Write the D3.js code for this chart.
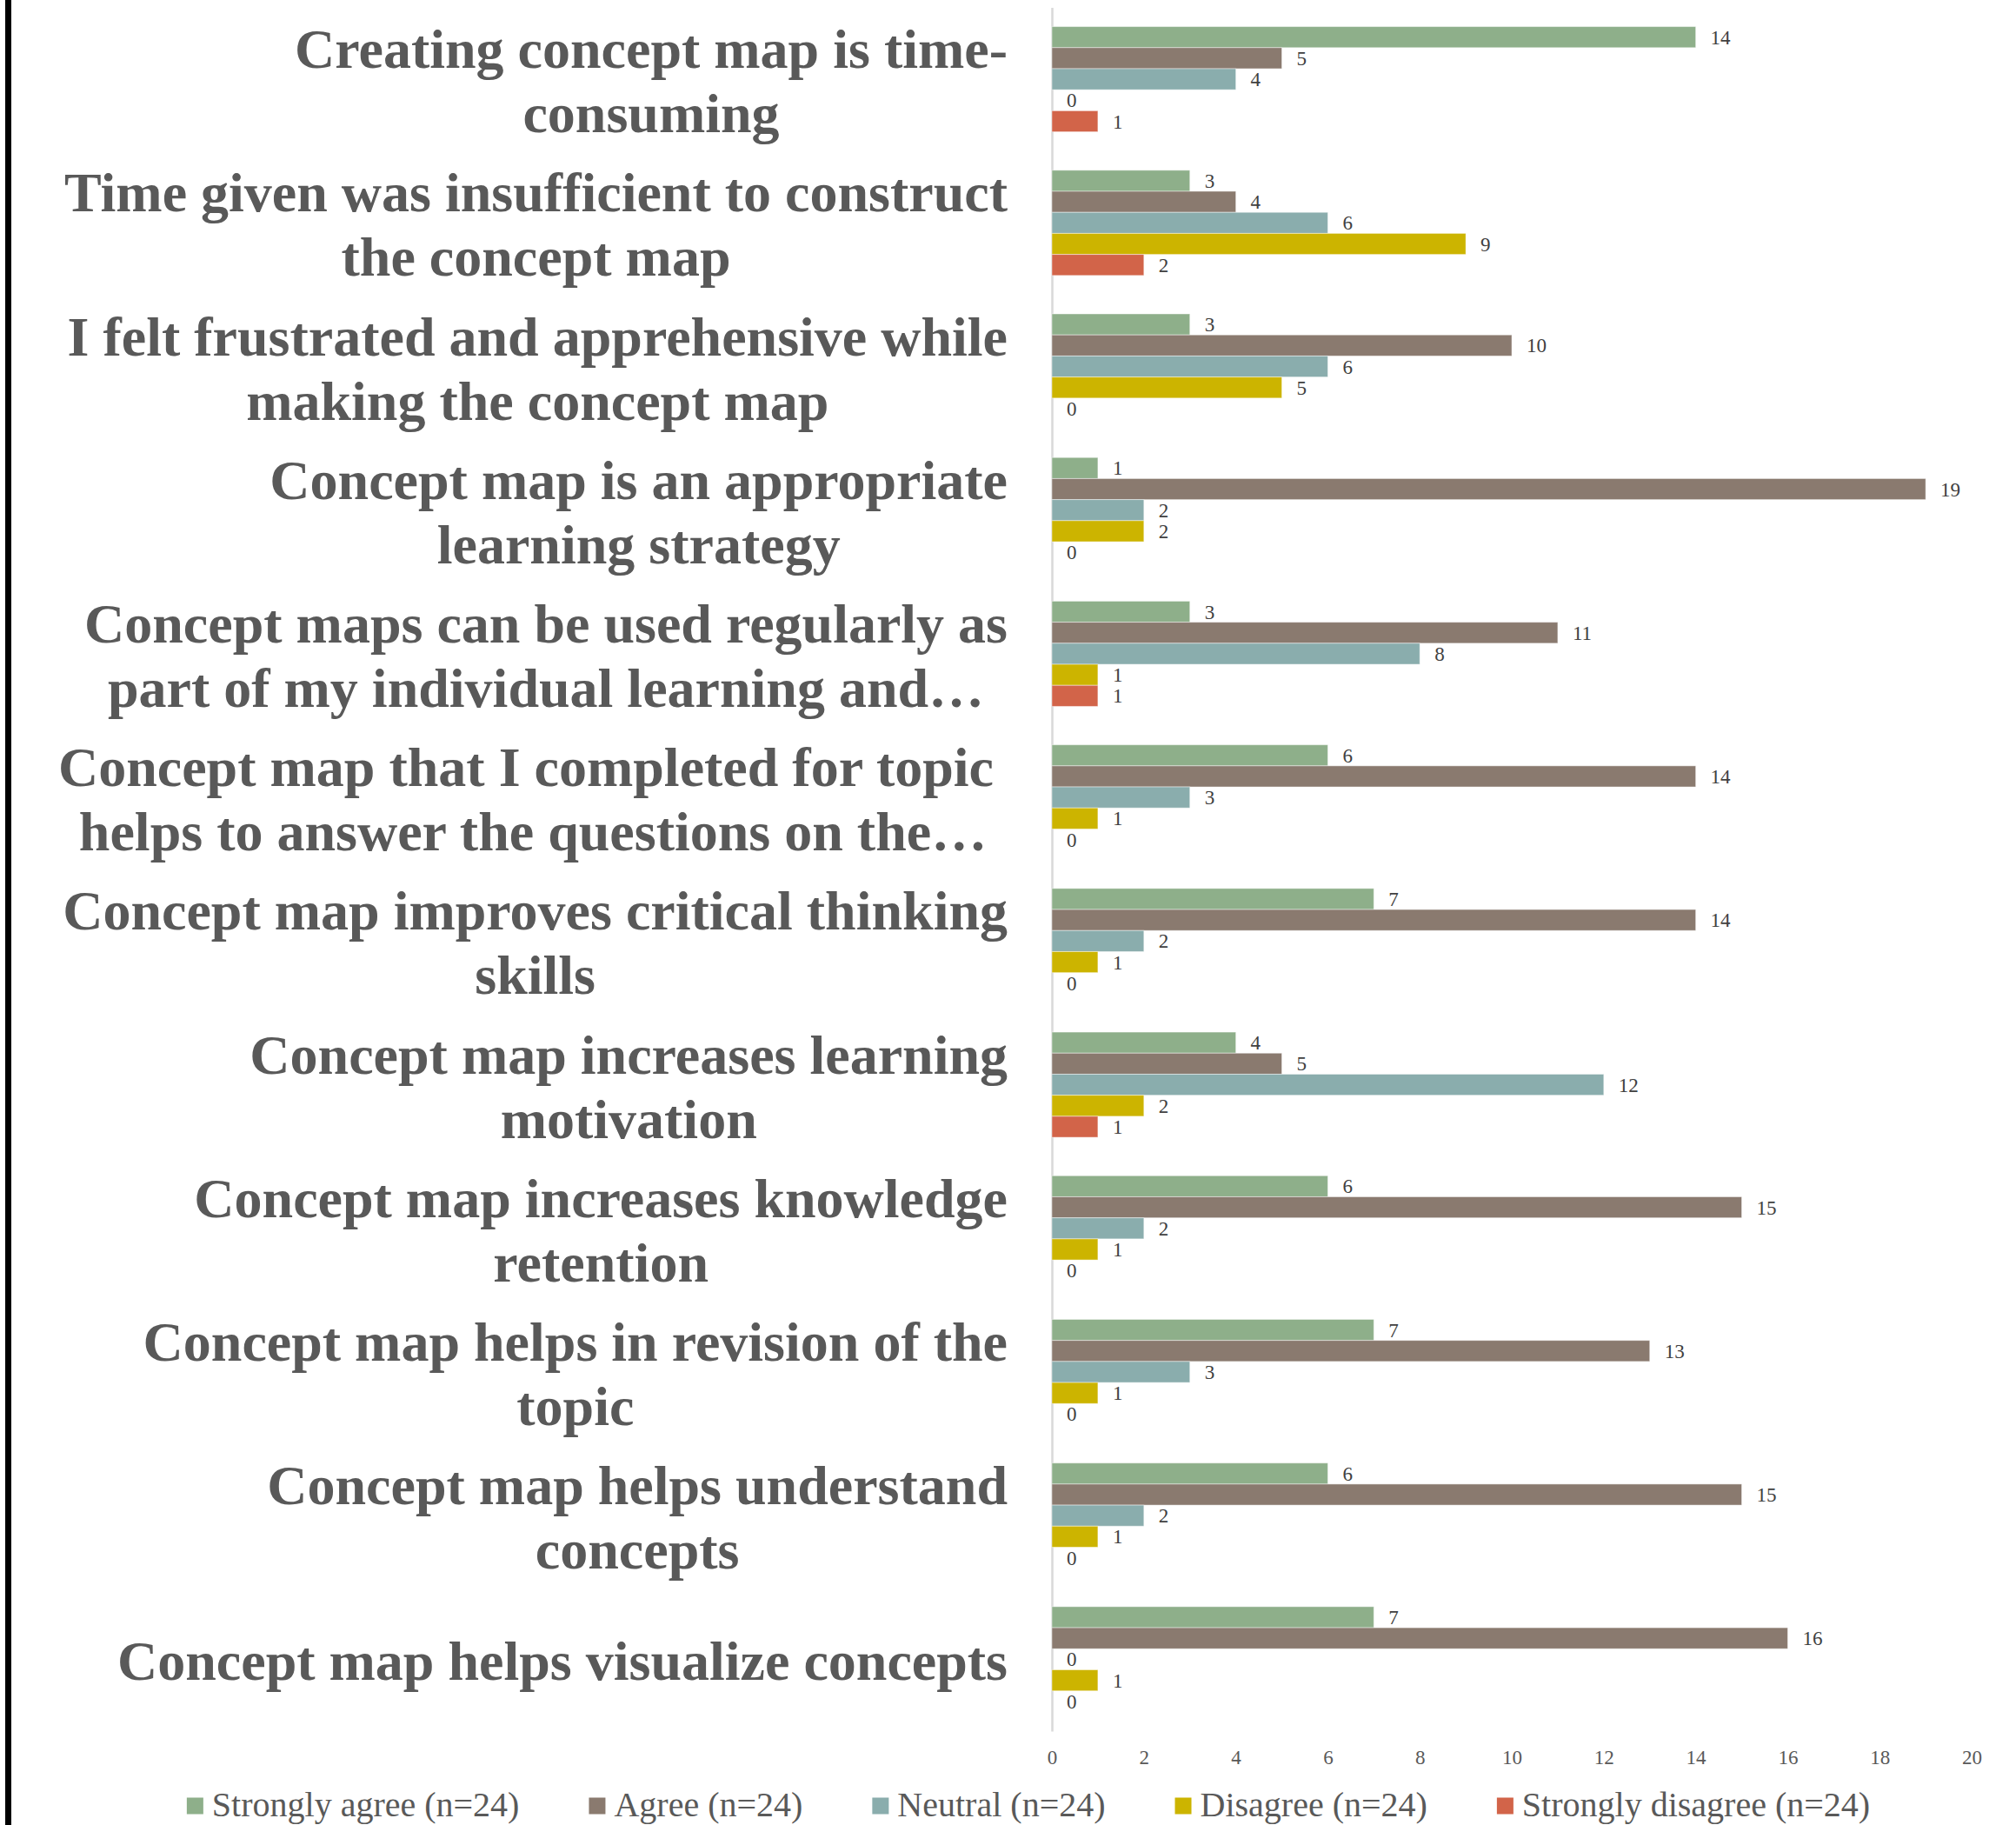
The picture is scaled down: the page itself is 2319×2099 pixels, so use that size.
<!DOCTYPE html>
<html>
<head>
<meta charset="utf-8">
<script src="https://cdn.jsdelivr.net/npm/d3@7"></script>
<style>
  body { margin: 0; background: #fff; }
  text { white-space: pre; }
</style>
</head>
<body>
<div id="container"></div>
<script>
const categories = [
  ['Creating concept map is time-', 'consuming'],
  ['Time given was insufficient to construct', 'the concept map'],
  ['I felt frustrated and apprehensive while', 'making the concept map'],
  ['Concept map is an appropriate', 'learning strategy'],
  ['Concept maps can be used regularly as', 'part of my individual learning and…'],
  ['Concept map that I completed for topic ', 'helps to answer the questions on the…'],
  ['Concept map improves critical thinking', 'skills'],
  ['Concept map increases learning', 'motivation'],
  ['Concept map increases knowledge', 'retention'],
  ['Concept map helps in revision of the', 'topic'],
  ['Concept map helps understand', 'concepts'],
  ['Concept map helps visualize concepts']
];

const seriesNames = [
  'Strongly agree (n=24)',
  'Agree (n=24)',
  'Neutral (n=24)',
  'Disagree (n=24)',
  'Strongly disagree (n=24)'
];
const seriesColors = ['#8eaf8a', '#8a7a6f', '#8aadad', '#ccb400', '#d26449'];

const stronglyAgree = [14, 3, 3, 1, 3, 6, 7, 4, 6, 7, 6, 7];
const agree = [5, 4, 10, 19, 11, 14, 14, 5, 15, 13, 15, 16];
const neutral = [4, 6, 6, 2, 8, 3, 2, 12, 2, 3, 2, 0];
const disagree = [0, 9, 5, 2, 1, 1, 1, 2, 1, 1, 1, 1];
const stronglyDisagree = [1, 2, 0, 0, 1, 0, 0, 1, 0, 0, 0, 0];

const xTicks = [0, 2, 4, 6, 8, 10, 12, 14, 16, 18, 20];

const seriesValues = [stronglyAgree, agree, neutral, disagree, stronglyDisagree];

// Parameters
const width = 2319;
const height = 2099;
const plot = { left: 1210, right: 2268, top: 8.5, bottom: 1991 };
const labelRight = 1159;
const labelFont = 64;
const lineGap = 74;
const legendFont = 40;
const legendBase = 2089;

const svg = d3.select('#container').append('svg')
  .attr('width', width)
  .attr('height', height);

svg.append('rect')
  .attr('width', width).attr('height', height)
  .attr('fill', '#fff');

// black frame edge on the left
svg.append('rect')
  .attr('x', 6).attr('y', 0)
  .attr('width', 7).attr('height', height)
  .attr('fill', '#000');

// scales
const xScale = d3.scaleLinear()
  .domain([0, 20])
  .range([plot.left, plot.right]);

const yScale = d3.scaleBand()
  .domain(d3.range(categories.length))
  .range([plot.top, plot.bottom])
  .paddingInner(0.2675)
  .paddingOuter(0.13375);

const ySeries = d3.scaleBand()
  .domain(d3.range(seriesNames.length))
  .range([0, yScale.bandwidth()]);

// x axis (labels only)
const xAxis = svg.append('g')
  .attr('transform', `translate(0, ${plot.bottom})`)
  .call(d3.axisBottom(xScale).tickValues(xTicks).tickSize(0).tickPadding(22));
xAxis.select('.domain').remove();
xAxis.selectAll('text')
  .attr('font-family', '"Liberation Serif", serif')
  .attr('font-size', 23)
  .attr('fill', '#595959');

// y axis line
const yAxis = svg.append('g')
  .attr('transform', `translate(${plot.left}, 0)`)
  .call(d3.axisLeft(yScale).tickSize(0).tickSizeOuter(0).tickFormat(''));
yAxis.select('.domain')
  .attr('stroke', '#d9d9d9')
  .attr('stroke-width', 2.5);

// bars
const groups = svg.append('g').classed('groups', true)
  .selectAll('g').data(categories).enter().append('g')
  .attr('transform', (d, i) => `translate(0, ${yScale(i)})`);

const cells = groups.selectAll('g')
  .data((d, i) => seriesValues.map((vals, s) => ({ s, v: vals[i] })))
  .enter().append('g');

cells.append('rect')
  .attr('x', xScale(0))
  .attr('y', d => ySeries(d.s))
  .attr('width', d => xScale(d.v) - xScale(0))
  .attr('height', ySeries.bandwidth())
  .attr('fill', d => seriesColors[d.s])
  .attr('stroke', '#fff')
  .attr('stroke-opacity', 0.45)
  .attr('stroke-width', 1);

cells.append('text')
  .attr('x', d => xScale(d.v) + 17)
  .attr('y', d => ySeries(d.s) + ySeries.bandwidth() / 2)
  .attr('dy', '0.35em')
  .attr('font-family', '"Liberation Serif", serif')
  .attr('font-size', 23)
  .attr('fill', '#404040')
  .text(d => d.v);

// category labels: block right-aligned, lines centred within it
const labels = svg.append('g').classed('labels', true)
  .selectAll('g').data(categories).enter().append('g')
  .attr('transform', (d, i) => `translate(0, ${yScale(i) + yScale.bandwidth() / 2})`);

labels.each(function (lines) {
  const g = d3.select(this);
  const texts = g.selectAll('text').data(lines).enter().append('text')
    .attr('xml:space', 'preserve')
    .attr('font-family', '"Liberation Serif", "Times New Roman", serif')
    .attr('font-weight', 'bold')
    .attr('font-size', labelFont)
    .attr('fill', '#595959')
    .attr('text-anchor', 'middle')
    .attr('y', (d, j) => (j - (lines.length - 1) / 2) * lineGap + 24)
    .text(d => d);
  let maxW = 0;
  texts.each(function () { maxW = Math.max(maxW, this.getComputedTextLength()); });
  texts.attr('x', labelRight - maxW / 2);
});

// legend
const legend = svg.append('g').classed('legend', true);
const items = legend.selectAll('g').data(seriesNames).enter().append('g');
items.append('rect')
  .attr('width', 19).attr('height', 19)
  .attr('y', legendBase - legendFont * 0.3 - 9.5)
  .attr('fill', (d, i) => seriesColors[i]);
items.append('text')
  .attr('x', 29)
  .attr('y', legendBase)
  .attr('font-family', '"Liberation Serif", serif')
  .attr('font-size', legendFont)
  .attr('fill', '#595959')
  .text(d => d);

const itemGap = 80;
let offset = 0;
const itemX = [];
items.each(function () {
  itemX.push(offset);
  offset += 29 + d3.select(this).select('text').node().getComputedTextLength() + itemGap;
});
const legendWidth = offset - itemGap;
const legendStart = 1183 - legendWidth / 2;
items.attr('transform', (d, i) => `translate(${legendStart + itemX[i]}, 0)`);
</script>
</body>
</html>
